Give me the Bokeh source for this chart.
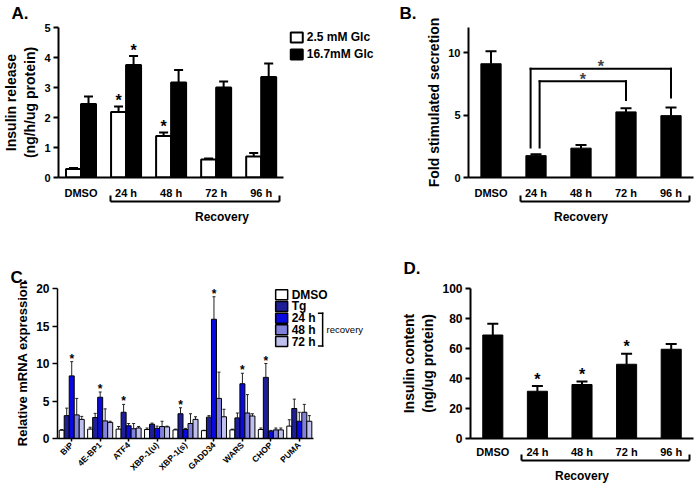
import math
from bokeh.plotting import figure
from bokeh.models import (ColumnDataSource, Range1d, FixedTicker, Whisker,
                          TeeHead, Arrow, Label, LinearAxis, CustomJSTickFormatter)
from bokeh.transform import dodge
from bokeh.layouts import column, row
from bokeh.embed import file_html
from bokeh.resources import INLINE
from bokeh.core.properties import value

FONT = "Liberation Sans"

# ---------------- data ----------------
groups = ["DMSO", "24 h", "48 h", "72 h", "96 h"]

# Panel A: insulin release (ng/h/ug protein)
a_series = ["2.5 mM Glc", "16.7mM Glc"]
a_low = [0.28, 2.18, 1.38, 0.60, 0.70]
a_low_err = [0.04, 0.19, 0.12, 0.03, 0.12]
a_low_sig = [False, True, True, False, False]
a_high = [2.45, 3.75, 3.17, 3.00, 3.35]
a_high_err = [0.25, 0.30, 0.41, 0.20, 0.45]
a_high_sig = [False, True, False, False, False]
a_yticks = [0, 1, 2, 3, 4, 5]

# Panel B: fold stimulated secretion
b_fold = [9.1, 1.75, 2.35, 5.25, 4.95]
b_fold_err = [1.0, 0.12, 0.25, 0.30, 0.65]
b_yticks = [0, 5, 10]
b_comparisons = [("24 h", "96 h"), ("24 h", "72 h")]

# Panel C: relative mRNA expression
c_genes = ["BiP", "4E-BP1", "ATF4", "XBP-1(u)", "XBP-1(s)", "GADD34", "WARS", "CHOP", "PUMA"]
c_series = ["DMSO", "Tg", "24 h", "48 h", "72 h"]
c_dmso = [1.1, 1.25, 1.25, 1.2, 1.15, 1.05, 1.15, 1.2, 1.65]
c_dmso_err = [0.1, 0.25, 0.35, 0.2, 0.1, 0.05, 0.1, 0.2, 0.85]
c_tg = [3.05, 2.8, 3.5, 1.9, 3.3, 2.85, 2.75, 8.15, 4.0]
c_tg_err = [1.0, 0.55, 1.05, 0.15, 0.8, 0.2, 0.65, 1.85, 1.25]
c_24h = [8.35, 5.5, 1.7, 1.35, 1.2, 15.9, 7.3, 0.98, 2.3]
c_24h_err = [1.9, 0.7, 0.3, 0.3, 0.15, 3.0, 1.4, 0.1, 1.2]
c_48h = [3.15, 2.35, 1.3, 1.6, 2.0, 5.35, 3.4, 1.15, 3.5]
c_48h_err = [2.2, 1.6, 0.7, 0.7, 1.3, 3.5, 2.45, 0.25, 1.05]
c_72h = [2.55, 2.15, 1.4, 1.55, 2.55, 2.9, 3.0, 1.15, 2.3]
c_72h_err = [0.4, 0.15, 0.2, 0.1, 0.35, 1.0, 0.3, 0.25, 0.75]
c_stars = [("BiP", "24 h"), ("4E-BP1", "24 h"), ("ATF4", "Tg"), ("XBP-1(s)", "Tg"),
           ("GADD34", "24 h"), ("WARS", "24 h"), ("CHOP", "Tg")]
c_yticks = [0, 5, 10, 15, 20]

# Panel D: insulin content (ng/ug protein)
d_content = [69.0, 31.5, 36.0, 49.5, 59.5]
d_content_err = [7.5, 3.5, 2.0, 7.0, 3.5]
d_sig = [False, True, True, True, False]
d_yticks = [0, 20, 40, 60, 80, 100]

g_pos = list(range(1, len(groups) + 1))      # category slots 1..5
c_pos = list(range(1, len(c_genes) + 1))     # category slots 1..9


# ---------------- helpers ----------------
def style(p, letter, letter_offset, letter_standoff):
    p.grid.visible = False
    p.outline_line_color = None
    p.background_fill_color = "white"
    p.border_fill_color = "white"
    for ax in p.axis:
        ax.axis_line_width = 2
        ax.axis_line_color = "black"
        ax.major_tick_line_width = 2
        ax.major_tick_line_color = "black"
        ax.minor_tick_line_color = None
        ax.major_label_text_font = FONT
        ax.major_label_text_font_style = "bold"
        ax.major_label_text_color = "black"
        ax.major_label_text_font_size = "11px"
        ax.axis_label_text_font = FONT
        ax.axis_label_text_font_style = "bold"
        ax.axis_label_text_color = "black"
        ax.axis_label_text_font_size = "14px"
    p.yaxis.major_tick_out = 5
    p.yaxis.major_tick_in = 0
    p.yaxis.major_label_standoff = 3
    p.yaxis.axis_label_standoff = 3
    p.xaxis.major_tick_line_color = None
    p.xaxis.major_tick_out = 0
    p.xaxis.major_tick_in = 0
    p.xaxis.major_label_standoff = 9
    p.title.text = letter
    p.title.align = "left"
    p.title.offset = letter_offset
    p.title.vertical_align = "top"
    p.title.standoff = letter_standoff
    p.title.text_font = FONT
    p.title.text_font_style = "bold"
    p.title.text_font_size = "17px"
    p.title.text_color = "black"


def make_fig(w, h, xr, y0, y1, left, right, top, bottom, letter, letter_offset,
             letter_standoff, labels, pos):
    p = figure(width=w, height=h, x_range=xr, y_range=Range1d(y0, y1),
               output_backend="svg", toolbar_location=None,
               min_border_left=left, min_border_right=right,
               min_border_top=top, min_border_bottom=bottom)
    style(p, letter, letter_offset, letter_standoff)
    p.xaxis.ticker = FixedTicker(ticks=pos)
    p.xaxis.major_label_overrides = {i: g for i, g in zip(pos, labels)}
    p.xaxis.bounds = (pos[0] - 0.5, pos[-1] + 0.5)
    return p


def segs(p, seglist, lw=2):
    src = ColumnDataSource(dict(x0=[s[0] for s in seglist], y0=[s[1] for s in seglist],
                                x1=[s[2] for s in seglist], y1=[s[3] for s in seglist]))
    p.add_layout(Arrow(end=None, source=src, x_start="x0", y_start="y0", x_end="x1", y_end="y1",
                       line_width=lw, line_color="black", line_cap="square"))


def recovery_axis(p):
    # bracket under the recovery time points, drawn as a bounded second x axis
    x0 = g_pos[groups.index("24 h")] - 0.35
    x1 = g_pos[groups.index("96 h")] + 0.40
    ax = LinearAxis(bounds=(x0, x1), ticker=FixedTicker(ticks=[x0, x1]),
                    formatter=CustomJSTickFormatter(code="return ''"), axis_label="Recovery")
    ax.axis_line_width = 2
    ax.axis_line_color = "black"
    ax.major_tick_line_width = 2
    ax.major_tick_line_color = "black"
    ax.major_tick_in = 6
    ax.major_tick_out = 0
    ax.minor_tick_line_color = None
    ax.major_label_standoff = 0
    ax.major_label_text_font_size = "1px"
    ax.axis_label_standoff = 8
    ax.axis_label_text_font = FONT
    ax.axis_label_text_font_style = "bold"
    ax.axis_label_text_font_size = "12px"
    ax.axis_label_text_color = "black"
    p.add_layout(ax, "below")


def whisk(p, src, base, lower, upper, lw=2, size=9, color="black"):
    p.add_layout(Whisker(source=src, base=base, lower=lower, upper=upper, dimension="height",
                         line_width=lw, line_color=color, lower_head=None,
                         upper_head=TeeHead(size=size, line_width=lw, line_color=color)))


def stars(p, xs, ys, offset, size="16px", lift=-6):
    src = ColumnDataSource(dict(g=xs, y=ys, t=["*"] * len(xs)))
    p.text(x=dodge("g", offset), y="y", text="t", source=src, y_offset=lift,
           text_font=value(FONT), text_font_style="bold", text_font_size=value(size),
           text_align="center", text_baseline="alphabetic", text_color="black")


def key(p, x, y_top, y_step, colors, labels, lw, font, gap):
    # legend keys: coloured swatch + label for each series
    ys = [y_top - k * y_step for k in range(len(labels))]
    src = ColumnDataSource(dict(y=ys, c=colors, t=labels))
    p.rect(x=x, y="y", width=12, height=10, width_units="screen", height_units="screen",
           fill_color="c", line_color="black", line_width=lw, source=src)
    p.text(x=x, x_offset=gap, y="y", text="t", source=src, text_font=value(FONT),
           text_font_style="bold", text_font_size=value(font), text_baseline="middle",
           text_align="left", text_color="black")


# ---------------- Panel A ----------------
pA = make_fig(398, 248, Range1d(0.5, 7.76), 0, 5, 57, 13, 7, 71, "A.", -47, 6, groups, g_pos)
pA.yaxis.ticker = FixedTicker(ticks=a_yticks)
pA.yaxis.axis_label = "Insulin release\n(ng/h/ug protein)"
srcA = ColumnDataSource(dict(
    g=g_pos, low=a_low, low_up=[m + e for m, e in zip(a_low, a_low_err)],
    high=a_high, high_up=[m + e for m, e in zip(a_high, a_high_err)]))
wA = 0.333
whisk(pA, srcA, dodge("g", -wA / 2), "low", "low_up")
whisk(pA, srcA, dodge("g", wA / 2), "high", "high_up")
pA.vbar(x=dodge("g", -wA / 2), top="low", width=wA, source=srcA,
        fill_color="white", line_color="black", line_width=2)
pA.vbar(x=dodge("g", wA / 2), top="high", width=wA, source=srcA,
        fill_color="black", line_color="black", line_width=2)
stars(pA, [g for g, s in zip(g_pos, a_low_sig) if s],
      [m + e for m, e, s in zip(a_low, a_low_err, a_low_sig) if s], -wA / 2)
stars(pA, [g for g, s in zip(g_pos, a_high_sig) if s],
      [m + e for m, e, s in zip(a_high, a_high_err, a_high_sig) if s], wA / 2)
key(pA, 5.79, 4.67, 0.567, ["white", "black"], a_series, 2, "12px", 10)
recovery_axis(pA)

# ---------------- Panel B ----------------
pB = make_fig(296, 248, Range1d(0.5, 5.5), 0, 12, 70, 1, 27, 71, "B.", -69, 6, groups, g_pos)
pB.yaxis.ticker = FixedTicker(ticks=b_yticks)
pB.yaxis.axis_label = "Fold stimulated secretion"
srcB = ColumnDataSource(dict(g=g_pos, m=b_fold, up=[m + e for m, e in zip(b_fold, b_fold_err)]))
whisk(pB, srcB, "g", "m", "up", size=11)
pB.vbar(x="g", top="m", width=0.45, source=srcB, fill_color="black", line_color="black")
comp_geom = [(-0.12, 0.0, 8.7, 2.4, 6.4), (0.08, 0.0, 7.7, 2.4, 6.2)]
for (ga, gb), (da, db, top, leg_a, leg_b) in zip(b_comparisons, comp_geom):
    xa = g_pos[groups.index(ga)] + da
    xb = g_pos[groups.index(gb)] + db
    segs(pB, [(xa, leg_a, xa, top), (xa, top, xb, top), (xb, top, xb, leg_b)])
    pB.add_layout(Label(x=(xa + xb) / 2, y=top, y_offset=2, text="*", text_font=FONT,
                        text_font_style="bold", text_font_size="16px", text_align="center",
                        text_baseline="alphabetic"))
recovery_axis(pB)

# ---------------- Panel C ----------------
pC = make_fig(398, 237, Range1d(0.5, 12.03), 0, 20, 57, 13, 1, 46, "C.", -47, 0,
              c_genes, c_pos)
pC.yaxis.ticker = FixedTicker(ticks=c_yticks)
pC.yaxis.axis_label = "Relative mRNA expression"
pC.yaxis.major_label_text_font_size = "12px"
pC.yaxis.axis_label_text_font_size = "13px"
for ax in pC.axis:
    ax.axis_line_width = 1.5
    ax.major_tick_line_width = 1.5
pC.xaxis.major_tick_line_color = "black"
pC.xaxis.major_tick_out = 3
pC.xaxis.major_label_standoff = 2
pC.xaxis.major_label_orientation = math.pi / 4
pC.xaxis.major_label_text_font_size = "8.5px"
c_vals = [c_dmso, c_tg, c_24h, c_48h, c_72h]
c_errs = [c_dmso_err, c_tg_err, c_24h_err, c_48h_err, c_72h_err]
c_colors = ["white", "#1e1e96", "#0a0ae0", "#8282dc", "#c0c0ee"]
wC = 0.176
for i, (name, vals, errs, col) in enumerate(zip(c_series, c_vals, c_errs, c_colors)):
    off = (i - 2) * wC
    src = ColumnDataSource(dict(g=c_pos, m=vals, up=[v + e for v, e in zip(vals, errs)]))
    whisk(pC, src, dodge("g", off), "m", "up", lw=1, size=3, color="#222222")
    pC.vbar(x=dodge("g", off), top="m", width=wC, source=src,
            fill_color=col, line_color="black", line_width=1)
    sg = [c_genes.index(g) for g, s in c_stars if s == name]
    if sg:
        stars(pC, [c_pos[k] for k in sg], [vals[k] + errs[k] for k in sg], off,
              size="12px", lift=-3)
key(pC, 8.38, 19.18, 1.565, c_colors, c_series, 1.5, "12px", 10)
segs(pC, [(9.68, 16.7, 9.82, 16.7), (9.82, 16.7, 9.82, 12.35), (9.82, 12.35, 9.68, 12.35)], lw=1.5)
pC.add_layout(Label(x=9.96, y=14.5, text="recovery", text_font=FONT, text_font_size="9.5px",
                    text_baseline="middle", text_color="black"))

# ---------------- Panel D ----------------
pD = make_fig(296, 237, Range1d(0.5, 5.5), 0, 100, 67, 1, 40, 47, "D.", -67, 18,
              groups, g_pos)
pD.yaxis.ticker = FixedTicker(ticks=d_yticks)
pD.yaxis.axis_label = "Insulin content\n(ng/ug protein)"
pD.yaxis.major_label_text_font_size = "12px"
pD.xaxis[0].major_label_standoff = 7
srcD = ColumnDataSource(dict(g=g_pos, m=d_content,
                             up=[m + e for m, e in zip(d_content, d_content_err)]))
whisk(pD, srcD, "g", "m", "up", size=11)
pD.vbar(x="g", top="m", width=0.45, source=srcD, fill_color="black", line_color="black")
stars(pD, [g for g, s in zip(g_pos, d_sig) if s],
      [m + e for m, e, s in zip(d_content, d_content_err, d_sig) if s], 0, lift=-7)
recovery_axis(pD)

layout = column(row(pA, pB), row(pC, pD))
open("out.html", "w").write(file_html(layout, INLINE))
